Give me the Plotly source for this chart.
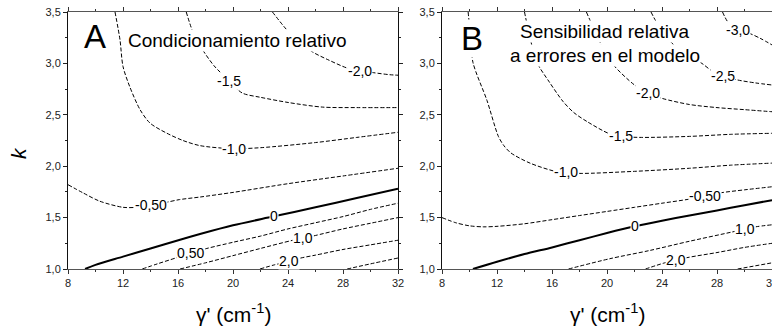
import numpy as np
import plotly.graph_objects as go

FONT = "Arial, 'Liberation Sans', sans-serif"

# ---------------- data: contour lines ----------------
# Panel A  (x = gamma' in cm-1, y = k)
A_N20_X = [22.87, 23.89, 24.8, 25.8, 27.0, 28.3, 29.2, 30.2, 31.4, 32.0]
A_N20_Y = [3.50, 3.33, 3.21, 3.11, 3.03, 2.955, 2.93, 2.91, 2.89, 2.885]
A_N15_X = [16.6, 17.1, 17.8, 18.6, 19.1, 19.9, 20.7, 22.0, 24.0, 26.5, 29.0, 32.0]
A_N15_Y = [3.50, 3.30, 3.13, 2.98, 2.91, 2.80, 2.71, 2.67, 2.62, 2.575, 2.57, 2.57]
A_N10_X = [11.42, 11.78, 12.0, 12.5, 13.24, 13.96, 15.2, 16.36, 17.6, 20.0, 22.0, 26.0, 29.0, 32.0]
A_N10_Y = [3.50, 3.23, 2.97, 2.77, 2.55, 2.42, 2.32, 2.25, 2.20, 2.17, 2.18, 2.23, 2.28, 2.33]
A_N05_X = [8.0, 9.1, 10.3, 12.0, 13.0, 14.0, 15.2, 16.1, 17.6, 20.0, 24.0, 28.0, 32.0]
A_N05_Y = [1.82, 1.74, 1.66, 1.60, 1.60, 1.62, 1.65, 1.675, 1.70, 1.745, 1.83, 1.905, 1.98]
A_Z00_X = [9.24, 10.0, 12.0, 14.0, 16.15, 17.6, 20.0, 22.9, 26.0, 29.0, 32.0]
A_Z00_Y = [1.00, 1.04, 1.12, 1.20, 1.285, 1.34, 1.425, 1.51, 1.60, 1.69, 1.78]
A_P05_X = [13.4, 14.5, 15.9, 16.9, 18.1, 20.0, 22.0, 24.0, 26.0, 28.0, 30.0, 32.0]
A_P05_Y = [1.00, 1.05, 1.11, 1.155, 1.20, 1.26, 1.32, 1.39, 1.45, 1.51, 1.58, 1.64]
A_P10_X = [16.15, 18.0, 20.0, 22.0, 24.36, 25.8, 28.0, 30.0, 32.0]
A_P10_Y = [1.00, 1.06, 1.13, 1.20, 1.28, 1.32, 1.39, 1.445, 1.50]
A_P20_X = [21.96, 23.0, 24.1, 24.87, 26.0, 28.0, 30.0, 32.0]
A_P20_Y = [1.00, 1.04, 1.075, 1.105, 1.135, 1.19, 1.235, 1.28]
A_P30_X = [28.3, 30.0, 32.0]
A_P30_Y = [1.00, 1.05, 1.107]

A_LINES = [(A_N20_X, A_N20_Y), (A_N15_X, A_N15_Y), (A_N10_X, A_N10_Y), (A_N05_X, A_N05_Y),
           (A_Z00_X, A_Z00_Y), (A_P05_X, A_P05_Y), (A_P10_X, A_P10_Y), (A_P20_X, A_P20_Y),
           (A_P30_X, A_P30_Y)]
A_LEVELS = [-2.0, -1.5, -1.0, -0.5, 0.0, 0.5, 1.0, 2.0, 3.0]
A_LABELS = ["-2,0", "-1,5", "-1,0", "-0,50", "0", "0,50", "1,0", "2,0", None]
A_LABEL_X = [29.2, 19.7, 20.1, 14.0, 23.0, 16.9, 25.1, 24.1, None]

# Panel B
B_N30_X = [28.4, 28.8, 29.4, 30.4, 31.2, 32.0]
B_N30_Y = [3.50, 3.40, 3.33, 3.29, 3.24, 3.18]
B_N25_X = [23.2, 23.6, 24.1, 24.7, 25.8, 26.9, 27.6, 28.4, 29.45, 30.8, 32.0]
B_N25_Y = [3.50, 3.40, 3.30, 3.20, 3.08, 3.00, 2.93, 2.88, 2.84, 2.81, 2.79]
B_N20_X = [18.5, 19.0, 19.7, 20.5, 22.0, 23.0, 24.0, 26.0, 28.0, 30.0, 32.0]
B_N20_Y = [3.50, 3.35, 3.15, 2.98, 2.79, 2.71, 2.66, 2.60, 2.57, 2.55, 2.53]
B_N15_X = [14.0, 14.4, 14.9, 15.8, 16.8, 17.6, 18.6, 20.1, 21.0, 22.5, 26.0, 29.0, 32.0]
B_N15_Y = [3.50, 3.25, 3.01, 2.82, 2.63, 2.52, 2.43, 2.32, 2.29, 2.28, 2.29, 2.31, 2.32]
B_N10_X = [9.9, 10.05, 10.25, 11.27, 12.1, 12.5, 13.0, 14.4, 16.4, 18.0, 22.0, 26.0, 29.0, 32.0]
B_N10_Y = [3.50, 3.30, 3.01, 2.64, 2.29, 2.20, 2.13, 2.03, 1.945, 1.93, 1.95, 1.98, 2.01, 2.03]
B_N05_X = [8.0, 9.0, 10.0, 11.0, 12.0, 14.0, 16.0, 18.0, 20.0, 22.0, 24.0, 26.0, 27.1, 28.2, 30.0, 32.0]
B_N05_Y = [1.50, 1.45, 1.42, 1.41, 1.415, 1.44, 1.48, 1.52, 1.56, 1.60, 1.64, 1.68, 1.71, 1.74, 1.77, 1.80]
B_Z00_X = [10.25, 12.0, 14.0, 16.0, 18.0, 20.0, 22.0, 24.0, 26.0, 28.0, 30.0, 32.0]
B_Z00_Y = [1.00, 1.07, 1.145, 1.21, 1.28, 1.35, 1.415, 1.47, 1.52, 1.57, 1.62, 1.67]
B_P10_X = [17.2, 20.2, 23.1, 26.0, 29.1, 30.8, 32.0]
B_P10_Y = [1.00, 1.10, 1.18, 1.27, 1.36, 1.41, 1.43]
B_P20_X = [22.8, 24.2, 25.8, 28.0, 30.0, 32.0]
B_P20_Y = [1.00, 1.06, 1.11, 1.16, 1.21, 1.25]
B_P30_X = [29.5, 32.0]
B_P30_Y = [1.00, 1.06]

B_LINES = [(B_N30_X, B_N30_Y), (B_N25_X, B_N25_Y), (B_N20_X, B_N20_Y), (B_N15_X, B_N15_Y),
           (B_N10_X, B_N10_Y), (B_N05_X, B_N05_Y), (B_Z00_X, B_Z00_Y), (B_P10_X, B_P10_Y),
           (B_P20_X, B_P20_Y), (B_P30_X, B_P30_Y)]
B_LEVELS = [-3.0, -2.5, -2.0, -1.5, -1.0, -0.5, 0.0, 1.0, 2.0, 3.0]
B_LABELS = ["-3,0", "-2,5", "-2,0", "-1,5", "-1,0", "-0,50", "0", "1,0", "2,0", None]
B_LABEL_X = [29.5, 28.4, 23.0, 21.0, 17.0, 27.1, 22.0, 30.0, 25.0, None]

X_TICKS = [8, 12, 16, 20, 24, 28, 32]
Y_TICKS = [1.0, 1.5, 2.0, 2.5, 3.0, 3.5]

# ---------------- figure ----------------
# the figure is a bit wider than the 772 px window, so the right panel's
# last tick label is clipped by the window edge as in the original
W, H = 784, 328
fig = go.Figure()
annotations = []


def add_panel(lines, levels, labels, label_x, xref, yref):
    for (xs, ys), lev in zip(lines, levels):
        zero = lev == 0.0
        fig.add_trace(go.Scatter(
            x=xs, y=ys, mode="lines", xaxis=xref, yaxis=yref, showlegend=False,
            hoverinfo="skip",
            line=dict(color="black", width=2.0 if zero else 1.0, shape="spline", smoothing=0.8,
                      dash="solid" if zero else "4px,2px")))
    for (xs, ys), lab, lx in zip(lines, labels, label_x):
        if lab is None:
            continue
        ly = float(np.interp(lx, xs, ys))
        annotations.append(dict(
            x=lx, y=ly, xref=xref, yref=yref, text=lab, showarrow=False,
            font=dict(family=FONT, size=14, color="black"),
            bgcolor="white", borderpad=0, xanchor="center", yanchor="middle"))


add_panel(A_LINES, A_LEVELS, A_LABELS, A_LABEL_X, "x", "y")
add_panel(B_LINES, B_LEVELS, B_LABELS, B_LABEL_X, "x2", "y2")

xdomA = [68 / W, 398 / W]
xdomB = [442 / W, 772 / W]
ydom = [(H - 269) / H, (H - 12) / H]

def xax(domain, anchor):
    return dict(domain=domain, anchor=anchor, range=[8, 32], tickvals=X_TICKS,
                ticks="outside", ticklen=4, tickwidth=1, tickcolor="#333",
                minor=dict(dtick=2, tick0=8, ticks="outside", ticklen=2, tickcolor="#333"),
                showline=True, linecolor="#555", linewidth=1, mirror="allticks",
                showgrid=False, zeroline=False, automargin=False,
                tickfont=dict(family=FONT, size=11, color="#222"))

def yax(anchor):
    return dict(domain=ydom, anchor=anchor, range=[1.0, 3.5], tickvals=Y_TICKS,
                tickformat=".1f",
                ticks="outside", ticklen=4, tickwidth=1, tickcolor="#222",
                minor=dict(dtick=0.25, tick0=1, ticks="outside", ticklen=2, tickcolor="#222"),
                showline=True, linecolor="#111", linewidth=1, mirror="allticks",
                showgrid=False, zeroline=False, automargin=False,
                tickfont=dict(family=FONT, size=11, color="#222"))

# panel letters and titles
annotations += [
    dict(x=9.96, y=3.257, xref="x", yref="y", text="A", showarrow=False,
         font=dict(family=FONT, size=33, color="black"), bgcolor="white", borderpad=0),
    dict(x=20.3, y=3.225, xref="x", yref="y", text="Condicionamiento relativo", showarrow=False,
         font=dict(family=FONT, size=19, color="black"), bgcolor="white", borderpad=0),
    dict(x=10.2, y=3.247, xref="x2", yref="y2", text="B", showarrow=False,
         font=dict(family=FONT, size=33, color="black"), bgcolor="white", borderpad=0),
    dict(x=19.85, y=3.31, xref="x2", yref="y2", text="Sensibilidad relativa", showarrow=False,
         font=dict(family=FONT, size=19, color="black"), bgcolor="white", borderpad=0),
    dict(x=19.85, y=3.075, xref="x2", yref="y2", text="a errores en el modelo", showarrow=False,
         font=dict(family=FONT, size=19, color="black"), bgcolor="white", borderpad=0),
    dict(x=233 / W, y=(H - 313) / H, xref="paper", yref="paper",
         text="γ' (cm<sup>-1</sup>)", showarrow=False, xanchor="center", yanchor="middle",
         font=dict(family=FONT, size=21, color="black")),
    dict(x=607 / W, y=(H - 313) / H, xref="paper", yref="paper",
         text="γ' (cm<sup>-1</sup>)", showarrow=False, xanchor="center", yanchor="middle",
         font=dict(family=FONT, size=21, color="black")),
    dict(x=18 / W, y=(H - 153) / H, xref="paper", yref="paper", text="<i>k</i>",
         showarrow=False, textangle=-90, xanchor="center", yanchor="middle",
         font=dict(family=FONT, size=21, color="black")),
]

fig.update_layout(
    width=W, height=H, margin=dict(l=0, r=0, t=0, b=0),
    paper_bgcolor="white", plot_bgcolor="white",
    separators=", ",
    xaxis=xax(xdomA, "y"), yaxis=yax("x"),
    xaxis2=xax(xdomB, "y2"), yaxis2=yax("x2"),
    annotations=annotations,
    font=dict(family=FONT),
)

fig.write_html("out.html", config={"displayModeBar": False},
               post_script="document.body.style.margin='0px';document.body.style.overflow='hidden';")
